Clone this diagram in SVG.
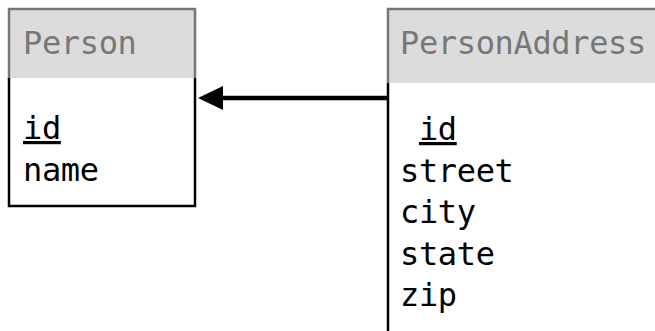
<svg xmlns="http://www.w3.org/2000/svg" width="655" height="331" viewBox="0 0 655 331">
  <style>
    .hdr { fill: #dcdcdc; stroke: none; }
    .hline { stroke: #777777; stroke-width: 2.5; fill: none; }
    .bline { stroke: #000000; stroke-width: 2.5; fill: none; }
    .title { font-family: "DejaVu Sans Mono", monospace; font-size: 32px; letter-spacing: -0.35px; fill: #777777; }
    .attr { font-family: "DejaVu Sans Mono", monospace; font-size: 32px; letter-spacing: -0.35px; fill: #000000; }
    .conn { stroke: #000000; stroke-width: 4.5; fill: none; }
  </style>
  <rect width="655" height="331" fill="#ffffff"/>
  <g id="Person">
    <rect class="hdr" x="9" y="9" width="186" height="69"/>
    <path class="hline" d="M9,78 V9 H195 V78"/>
    <path class="bline" d="M9,78 V206 H195 V78"/>
    <text class="title" x="23" y="54">Person</text>
    <text class="attr" x="23" y="139" text-decoration="underline">id</text>
    <text class="attr" x="23" y="181">name</text>
  </g>
  <g id="PersonAddress">
    <rect class="hdr" x="388" y="9" width="270" height="74"/>
    <path class="hline" d="M388,83 V9 H660"/>
    <path class="bline" d="M388,83 V335"/>
    <text class="title" x="400" y="54">PersonAddress</text>
    <text class="attr" x="400" y="140" xml:space="preserve"> <tspan text-decoration="underline">id</tspan></text>
    <text class="attr" x="400" y="182">street</text>
    <text class="attr" x="400" y="223">city</text>
    <text class="attr" x="400" y="265">state</text>
    <text class="attr" x="400" y="306">zip</text>
  </g>
  <g id="connectors">
    <line class="conn" x1="387" y1="98" x2="222" y2="98"/>
    <polygon points="198,98 223,86 223,110" fill="#000000"/>
  </g>
</svg>
